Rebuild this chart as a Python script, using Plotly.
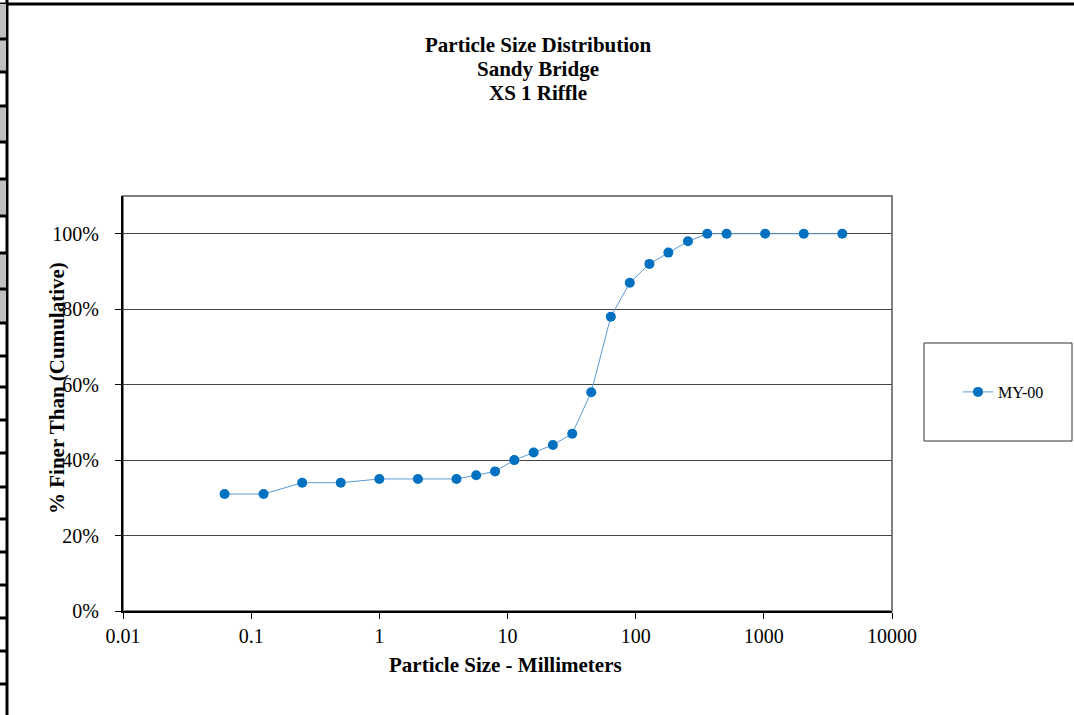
import plotly.graph_objects as go

# ---- data ----
sizes_mm = [0.062, 0.125, 0.25, 0.5, 1, 2, 4, 5.7, 8, 11.3, 16, 22.6, 32, 45,
            64, 90, 128, 180, 256, 362, 512, 1024, 2048, 4096]
pct_finer = [31, 31, 34, 34, 35, 35, 35, 36, 37, 40, 42, 44, 47, 58,
             78, 87, 92, 95, 98, 100, 100, 100, 100, 100]
series_name = "MY-00"
x_tickvals = [0.01, 0.1, 1, 10, 100, 1000, 10000]
x_ticktext = ["0.01", "0.1", "1", "10", "100", "1000", "10000"]
y_tickvals = [0, 20, 40, 60, 80, 100]
y_ticktext = ["0%", "20%", "40%", "60%", "80%", "100%"]
title_lines = ["Particle Size Distribution", "Sandy Bridge", "XS 1 Riffle"]
y_title = "% Finer Than (Cumulative)"
x_title = "Particle Size - Millimeters"

W, H = 1074, 715
L, R, T, B = 123, 892, 196, 611
FONT = "Liberation Serif"


def px(x):
    return (x - L) / (R - L)


def py(y):
    return (B - y) / (B - T)


fig = go.Figure()
fig.add_trace(go.Scatter(
    x=sizes_mm, y=pct_finer, mode="lines+markers", name=series_name,
    line=dict(color="#5B9BD5", width=1),
    marker=dict(color="#0070C0", size=10),
))

shapes = []
# plot-area frame (gray top/right)
shapes.append(dict(type="rect", xref="paper", yref="paper", x0=0, x1=1, y0=0, y1=1,
                   line=dict(color="#808080", width=2), layer="below"))
# legend box
shapes.append(dict(type="rect", xref="paper", yref="paper",
                   x0=px(924), x1=px(1072), y0=py(441), y1=py(343),
                   line=dict(color="#333333", width=1)))
# outer sheet frame: top line and left line
shapes.append(dict(type="line", xref="paper", yref="paper",
                   x0=px(0), x1=px(1074), y0=py(4), y1=py(4),
                   line=dict(color="black", width=3)))
shapes.append(dict(type="line", xref="paper", yref="paper",
                   x0=px(7), x1=px(7), y0=py(0), y1=py(715),
                   line=dict(color="black", width=3)))
# spreadsheet row cells at left edge
rows = [4, 39, 72, 106, 142, 179, 216, 253, 289, 323, 356, 387, 420, 453, 487,
        519, 552, 585, 618, 651, 684]
gray_rows = [0, 1, 3, 5, 7, 8]
for i in range(len(rows) - 1):
    if i in gray_rows:
        shapes.append(dict(type="rect", xref="paper", yref="paper",
                           x0=px(0), x1=px(6), y0=py(rows[i + 1]), y1=py(rows[i]),
                           fillcolor="#C0C0C0", line=dict(width=0)))
for r in rows[1:]:
    shapes.append(dict(type="line", xref="paper", yref="paper",
                       x0=px(0), x1=px(7), y0=py(r), y1=py(r),
                       line=dict(color="black", width=3)))

annotations = []
for i, t in enumerate(title_lines):
    annotations.append(dict(text="<b>%s</b>" % t, xref="paper", yref="paper",
                            x=px(538), y=py(45 + 24 * i), showarrow=False,
                            xanchor="center", yanchor="middle",
                            font=dict(family=FONT, size=21, color="black")))
annotations.append(dict(text="<b>%s</b>" % y_title, xref="paper", yref="paper",
                        x=px(57), y=py(388), showarrow=False, textangle=-90,
                        xanchor="center", yanchor="middle",
                        font=dict(family=FONT, size=21, color="black")))
annotations.append(dict(text="<b>%s</b>" % x_title, xref="paper", yref="paper",
                        x=px(505), y=py(665), showarrow=False,
                        xanchor="center", yanchor="middle",
                        font=dict(family=FONT, size=21, color="black")))

fig.update_layout(
    width=W, height=H,
    margin=dict(l=L, r=W - R, t=T, b=H - B, pad=0),
    paper_bgcolor="white", plot_bgcolor="white",
    font=dict(family=FONT, color="black"),
    shapes=shapes, annotations=annotations,
    showlegend=True,
    legend=dict(x=px(958), y=py(392), xanchor="left", yanchor="middle",
                bgcolor="rgba(0,0,0,0)", borderwidth=0,
                font=dict(family=FONT, size=16, color="black")),
)
fig.update_xaxes(
    type="log", range=[-2, 4],
    tickvals=x_tickvals, ticktext=x_ticktext,
    tickfont=dict(family=FONT, size=20, color="black"),
    ticks="outside", ticklen=6, tickcolor="black",
    showline=True, linecolor="black", linewidth=2,
    showgrid=False, zeroline=False,
)
fig.update_yaxes(
    range=[0, 110],
    tickvals=y_tickvals, ticktext=y_ticktext,
    tickfont=dict(family=FONT, size=20, color="black"),
    ticks="outside", ticklen=6, tickcolor="black", ticklabelstandoff=12,
    showline=True, linecolor="black", linewidth=2,
    showgrid=True, gridcolor="#444444", gridwidth=1, zeroline=False,
)

fig.write_html("out.html", config={"displayModeBar": False},
               post_script="document.body.style.margin='0';document.body.style.padding='0';")
